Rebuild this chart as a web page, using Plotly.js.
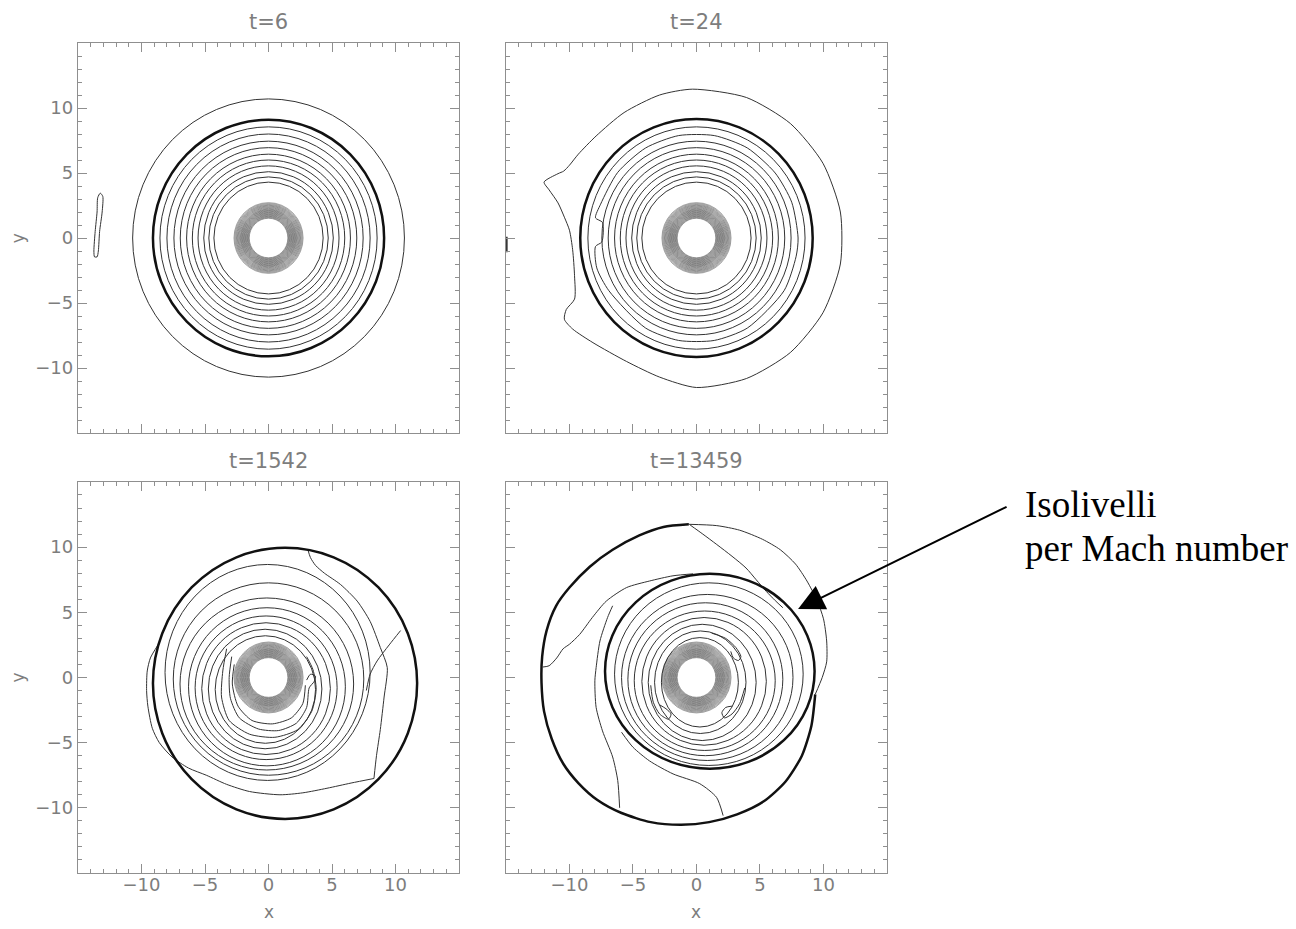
<!DOCTYPE html>
<html>
<head>
<meta charset="utf-8">
<script src="https://cdn.plot.ly/plotly-3.0.1.min.js"></script>
<style>
  html, body { margin: 0; padding: 0; background: #ffffff; }
  #chart { width: 1296px; height: 929px; }
</style>
</head>
<body>
<div id="chart"></div>
<script>
// ---- shared axis settings ----
const axisRange = [-15, 15];
const majorTicks = [-10, -5, 0, 5, 10];
const majorTickText = ['\u221210', '\u22125', '0', '5', '10'];
const minorStep = 1;
const panelTimes = ['t=6', 't=24', 't=1542', 't=13459'];

// dense Mach isolines hugging the inner boundary (drawn in every panel)
const innerRingRadii = [1.52, 1.57, 1.62, 1.67, 1.72, 1.77, 1.82, 1.87, 1.92, 1.97, 2.02,
                        2.07, 2.12, 2.17, 2.22, 2.28, 2.34, 2.40, 2.46, 2.52, 2.58, 2.65, 2.72];

// ---- t = 6 ----
const t6Circles = [8.55, 8.0, 7.45, 6.95, 6.45, 6.0, 5.55, 5.1, 4.7, 4.3];
const t6DiskEdge = 9.1;
const t6OuterLevel = 10.7;
const t6BlobX = [-13.25, -13.05, -13.1, -13.3, -13.4, -13.5, -13.7, -13.75, -13.65, -13.5, -13.45, -13.25];
const t6BlobY = [3.45, 3.2, 2.0, 0.5, -1.0, -1.45, -1.45, -1.0, 0.5, 2.0, 3.1, 3.45];

// ---- t = 24 ----
const t24Circles = [8.55, 7.45, 6.95, 6.45, 6.0, 5.55, 5.1, 4.7, 4.3];
const t24DiskEdge = 9.15;
const t24OuterX = [-0.3, -2.9, -5.7, -7.9, -9.3, -10.0, -10.45, -10.9, -12.0, -11.6, -10.9, -10.4,
                   -10.0, -9.75, -9.6, -9.6, -10.25, -10.4, -9.75, -8.15, -5.5, -2.9, 0.0, 3.93,
                   7.39, 9.96, 11.33, 11.33, 9.96, 7.39, 3.93, -0.3];
const t24OuterY = [11.45, 11.0, 9.65, 7.85, 6.45, 5.6, 5.15, 4.95, 4.3, 3.7, 2.7, 1.6,
                   0.6, -0.9, -2.9, -4.7, -5.5, -6.25, -7.0, -8.05, -9.5, -10.7, -11.5, -10.81,
                   -8.81, -5.75, -2.0, 2.0, 5.75, 8.81, 10.81, 11.45];
const t24KinkX = [8.0, 7.5, 6.2, 4.0, 1.4, -1.4, -4.0, -6.2, -7.55, -7.95, -7.4, -7.45, -7.95,
                  -7.85, -6.9, -4.0, -1.4, 1.4, 4.0, 6.9, 7.85, 8.0];
const t24KinkY = [0.0, 2.75, 5.0, 6.93, 7.88, 7.88, 6.93, 5.05, 2.6, 1.55, 1.2, -0.3, -0.65,
                  -2.3, -4.05, -6.93, -7.88, -7.88, -6.93, -4.05, -1.4, 0.0];
const t24EdgeMarkX = [-14.93, -14.93];
const t24EdgeMarkY = [0.1, -1.1];

// ---- t = 1542 ----
const t1542EdgeCenter = [1.3, -0.45];
const t1542EdgeRadius = 10.4;
const t1542Left   = [-8.15, -7.5, -6.97, -6.3, -5.78, -5.26, -4.74, -4.2];
const t1542Right  = [8.0, 7.5, 6.7, 6.05, 5.4, 4.87, 4.2, 3.7];
const t1542Bottom = [-7.9, -7.5, -7.1, -6.78, -6.3, -5.91, -5.47, -5.05];
const t1542Top    = [8.67, 7.26, 6.1, 5.35, 4.72, 4.2, 3.7, 3.2];
// open level curves wrapping the lower half of the inner ring
const t1542HookAX = [-3.3, -3.6, -3.7, -3.1, -1.5, 0.5, 2.3, 3.4, 3.75, 3.5, 3.0];
const t1542HookAY = [2.2, 0.5, -1.5, -3.3, -4.35, -4.59, -4.0, -2.6, -0.9, 0.6, 1.6];
const t1542HookBX = [-2.9, -3.1, -3.0, -2.3, -0.8, 0.8, 2.2, 3.0, 3.2, 3.6, 3.7, 3.3, 3.0];
const t1542HookBY = [1.6, 0.0, -1.6, -3.1, -3.95, -4.07, -3.5, -2.3, -0.8, -0.3, 0.1, 0.25, -0.2];
const t1542HookCX = [-2.7, -2.85, -2.4, -1.3, 0.3, 1.8, 2.7, 2.9];
const t1542HookCY = [1.0, -0.5, -2.2, -3.3, -3.56, -3.1, -2.0, -0.6];
const t1542LoopX = [-8.7, -9.3, -9.55, -9.6, -9.5, -9.15, -8.6, -7.6, -6.3, -4.9, -3.3, -1.5, 0.9, 2.7, 4.6, 6.5, 8.3];
const t1542LoopY = [2.5, 1.5, 0.5, -1.0, -2.2, -3.9, -5.0, -6.1, -6.95, -7.5, -8.2, -8.75, -9.0, -8.85, -8.5, -8.1, -7.75];
const t1542ArmX = [3.1, 3.3, 3.7, 4.4, 5.66, 6.98, 8.0, 8.8, 9.35, 9.1, 8.8, 8.5, 8.3];
const t1542ArmY = [9.8, 9.2, 8.6, 8.0, 7.14, 5.86, 4.3, 2.3, 0.76, -1.5, -4.0, -6.0, -7.75];
const t1542RightX = [10.4, 9.5, 8.55, 8.0, 7.7];
const t1542RightY = [3.6, 2.5, 1.27, 0.25, -1.0];

// ---- t = 13459 ----
const t13459EdgeX = [-0.6, -2.6, -4.5, -6.6, -8.4, -10.0, -11.05, -11.8, -12.15, -12.2, -12.0, -11.4,
                     -10.5, -9.3, -7.8, -5.9, -3.6, -1.2, 1.0, 3.2, 5.3, 7.0, 8.3, 9.05, 9.35];
const t13459EdgeY = [11.75, 11.55, 10.9, 9.8, 8.5, 6.9, 5.5, 3.6, 1.6, -0.4, -2.6, -4.7,
                     -6.6, -8.1, -9.4, -10.4, -11.1, -11.3, -11.1, -10.5, -9.5, -8.0, -6.0, -3.7, -1.3];
const t13459InnerEdge = {left: -7.2, right: 9.3, bottom: -7.0, top: 7.95};
const t13459ArcX = [-0.6, 1.6, 3.4, 5.2, 6.6, 7.8, 8.7, 9.5, 10.0, 10.25, 10.25, 9.9, 9.35];
const t13459ArcY = [11.75, 11.65, 11.3, 10.6, 9.8, 8.7, 7.4, 5.9, 4.5, 2.8, 1.2, 0.0, -1.3];
const t13459CrossX = [-0.5, 0.5, 1.6, 2.8, 3.9, 4.7, 5.5, 6.2, 6.8];
const t13459CrossY = [11.7, 11.0, 10.2, 9.3, 8.4, 7.5, 6.6, 5.9, 5.35];
const t13459WestX = [-12.1, -11.6, -11.0, -10.5, -10.0, -9.2, -8.2, -7.1, -5.5, -3.7, -1.85, -0.27];
const t13459WestY = [0.8, 0.9, 1.5, 2.2, 2.55, 3.3, 4.6, 5.86, 6.9, 7.4, 7.8, 7.95];
const t13459SouthWestX = [-6.05, -6.2, -6.6, -7.4, -7.9, -8.0, -7.9, -7.6, -7.0, -6.6];
const t13459SouthWestY = [-10.0, -7.9, -6.1, -4.1, -2.3, -0.25, 0.76, 2.8, 4.6, 5.5];
const t13459SouthX = [2.1, 1.58, 0.26, -1.84, -3.7, -5.0, -5.9];
const t13459SouthY = [-10.6, -9.2, -8.15, -7.4, -6.4, -5.35, -4.2];
const t13459Left   = [-6.45, -5.9, -5.4, -4.9, -4.3, -3.8, -3.3, -2.76];
const t13459Right  = [8.4, 7.6, 6.8, 6.2, 5.5, 4.7, 3.9, 3.3];
const t13459Bottom = [-6.75, -6.37, -6.0, -5.6, -5.2, -4.84, -4.3, -3.8];
const t13459Top    = [7.26, 6.37, 5.73, 5.1, 4.6, 4.08, 3.57, 3.06];
// rounded arm tips next to the inner ring
const t13459TipNEX = [1.2, 2.3, 3.1, 3.5, 3.3, 2.9, 2.7];
const t13459TipNEY = [3.4, 3.0, 2.3, 1.6, 1.3, 1.5, 2.0];
const t13459TipSEX = [3.8, 3.4, 2.8, 2.2, 2.0, 2.3, 2.8];
const t13459TipSEY = [-0.8, -2.0, -2.8, -3.1, -2.7, -2.3, -2.2];
const t13459TipSWX = [-3.6, -3.4, -2.9, -2.2, -2.0, -2.4, -2.9];
const t13459TipSWY = [-0.6, -1.9, -2.8, -3.2, -2.8, -2.4, -2.1];

// ---- styling ----
const frameGrey = '#8f8f8f';
const labelGrey = '#7d7d7d';
const thin = {color: '#333333', width: 1};
const thick = {color: '#111111', width: 2.5};
const ringLine = {color: '#2e2e2e', width: 0.45};

const xDomains = [[0.0602, 0.3542], [0.3904, 0.6844], [0.0602, 0.3542], [0.3904, 0.6844]];
const yDomains = [[0.5339, 0.9537], [0.5339, 0.9537], [0.0603, 0.4812], [0.0603, 0.4812]];

const traces = [];
const shapes = [];

function refs(p) { return p === 0 ? ['x', 'y'] : ['x' + (p + 1), 'y' + (p + 1)]; }

function addEllipse(p, x0, x1, y0, y1, line) {
  const [xr, yr] = refs(p);
  shapes.push({type: 'circle', xref: xr, yref: yr, x0: x0, x1: x1, y0: y0, y1: y1,
               line: line, fillcolor: 'rgba(0,0,0,0)', layer: 'above'});
}
function addCircle(p, cx, cy, r, line) { addEllipse(p, cx - r, cx + r, cy - r, cy + r, line); }

function addCurve(p, xs, ys, line, smooth) {
  const [xr, yr] = refs(p);
  traces.push({type: 'scatter', mode: 'lines', x: xs, y: ys, xaxis: xr, yaxis: yr,
               line: Object.assign({shape: smooth === false ? 'linear' : 'spline', smoothing: 0.7}, line),
               hoverinfo: 'skip', showlegend: false});
}

// inner ring in all panels
for (let p = 0; p < 4; p++) innerRingRadii.forEach(r => addCircle(p, 0, 0, r, ringLine));

// t = 6
t6Circles.forEach(r => addCircle(0, 0, 0, r, thin));
addCircle(0, 0, 0, t6DiskEdge, thick);
addCircle(0, 0, 0, t6OuterLevel, thin);
addCurve(0, t6BlobX, t6BlobY, thin);

// t = 24
t24Circles.forEach(r => addCircle(1, 0, 0, r, thin));
addCircle(1, 0, 0, t24DiskEdge, thick);
addCurve(1, t24OuterX, t24OuterY, thin);
addCurve(1, t24KinkX, t24KinkY, thin);
addCurve(1, t24EdgeMarkX, t24EdgeMarkY, {color: '#222', width: 1.5}, false);

// t = 1542
t1542Left.forEach((l, i) => addEllipse(2, l, t1542Right[i], t1542Bottom[i], t1542Top[i], thin));
addCurve(2, t1542HookAX, t1542HookAY, thin);
addCurve(2, t1542HookBX, t1542HookBY, thin);
addCurve(2, t1542HookCX, t1542HookCY, thin);
addCircle(2, t1542EdgeCenter[0], t1542EdgeCenter[1], t1542EdgeRadius, thick);
addCurve(2, t1542LoopX, t1542LoopY, thin);
addCurve(2, t1542ArmX, t1542ArmY, thin);
addCurve(2, t1542RightX, t1542RightY, thin);

// t = 13459
t13459Left.forEach((l, i) => addEllipse(3, l, t13459Right[i], t13459Bottom[i], t13459Top[i], thin));
addEllipse(3, t13459InnerEdge.left, t13459InnerEdge.right, t13459InnerEdge.bottom, t13459InnerEdge.top, thick);
addCurve(3, t13459EdgeX, t13459EdgeY, thick);
addCurve(3, t13459ArcX, t13459ArcY, thin);
addCurve(3, t13459CrossX, t13459CrossY, thin);
addCurve(3, t13459WestX, t13459WestY, thin);
addCurve(3, t13459SouthWestX, t13459SouthWestY, thin);
addCurve(3, t13459SouthX, t13459SouthY, thin);
addCurve(3, t13459TipNEX, t13459TipNEY, thin);
addCurve(3, t13459TipSEX, t13459TipSEY, thin);
addCurve(3, t13459TipSWX, t13459TipSWY, thin);

// ---- axes ----
const tickFont = {family: 'DejaVu Sans, sans-serif', size: 18, color: labelGrey};
function makeAxis(domain, anchor, showLabels) {
  return {
    domain: domain, anchor: anchor, range: axisRange, autorange: false,
    tickmode: 'array', tickvals: majorTicks, ticktext: majorTickText,
    showticklabels: showLabels, tickfont: tickFont,
    ticks: 'inside', ticklen: 9, tickwidth: 1, tickcolor: frameGrey,
    minor: {tickmode: 'linear', tick0: 0, dtick: minorStep, ticks: 'inside', ticklen: 4,
            tickwidth: 1, tickcolor: frameGrey, showgrid: false},
    showline: true, linecolor: frameGrey, linewidth: 1.2, mirror: 'allticks',
    showgrid: false, zeroline: false, fixedrange: true
  };
}

const layout = {
  width: 1296, height: 929,
  margin: {l: 0, r: 0, t: 0, b: 0},
  paper_bgcolor: '#ffffff', plot_bgcolor: '#ffffff',
  showlegend: false,
  shapes: shapes,
  annotations: []
};

for (let p = 0; p < 4; p++) {
  const suffix = p === 0 ? '' : String(p + 1);
  const [xr, yr] = refs(p);
  layout['xaxis' + suffix] = makeAxis(xDomains[p], yr, p >= 2);
  layout['yaxis' + suffix] = makeAxis(yDomains[p], xr, p % 2 === 0);
  layout['xaxis' + suffix].ticklabelstandoff = -5;
  layout['yaxis' + suffix].ticklabelstandoff = 0;
  // panel time stamp
  layout.annotations.push({
    text: panelTimes[p], xref: 'paper', yref: 'paper', showarrow: false,
    x: (xDomains[p][0] + xDomains[p][1]) / 2, y: yDomains[p][1] + 0.023,
    xanchor: 'center', yanchor: 'middle',
    font: {family: 'DejaVu Sans, sans-serif', size: 21, color: labelGrey}
  });
  if (p >= 2) {
    layout.annotations.push({
      text: 'x', xref: 'paper', yref: 'paper', showarrow: false,
      x: (xDomains[p][0] + xDomains[p][1]) / 2, y: 0.018, xanchor: 'center', yanchor: 'middle',
      font: {family: 'DejaVu Sans, sans-serif', size: 17, color: labelGrey}
    });
  }
  if (p % 2 === 0) {
    layout.annotations.push({
      text: 'y', xref: 'paper', yref: 'paper', showarrow: false,
      x: 0.014, y: (yDomains[p][0] + yDomains[p][1]) / 2, xanchor: 'center', yanchor: 'middle',
      font: {family: 'DejaVu Sans, sans-serif', size: 17, color: labelGrey}, textangle: -90
    });
  }
}

// pointer to the disk edge in the last panel
layout.annotations.push({
  xref: 'x4', yref: 'y4', x: 8.0, y: 5.25, text: '',
  showarrow: true, arrowhead: 2, arrowsize: 2.6, arrowwidth: 2, arrowcolor: '#000000',
  axref: 'pixel', ayref: 'pixel', ax: 210, ay: -103
});
layout.annotations.push({
  text: 'Isolivelli', xref: 'paper', yref: 'paper', x: 0.789, y: 0.4565,
  xanchor: 'left', yanchor: 'middle', showarrow: false,
  font: {family: 'Liberation Serif, Times New Roman, serif', size: 37, color: '#000000'}
});
layout.annotations.push({
  text: 'per Mach number', xref: 'paper', yref: 'paper', x: 0.789, y: 0.41,
  xanchor: 'left', yanchor: 'middle', showarrow: false,
  font: {family: 'Liberation Serif, Times New Roman, serif', size: 37, color: '#000000'}
});

Plotly.newPlot('chart', traces, layout, {staticPlot: true, displayModeBar: false});
</script>
</body>
</html>
